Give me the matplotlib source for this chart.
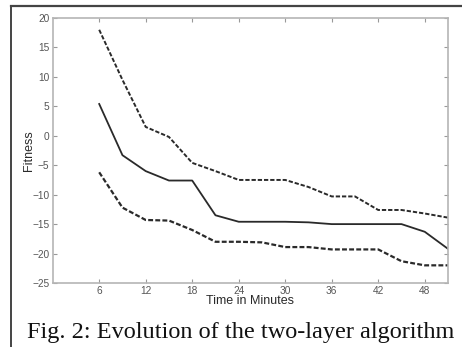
import matplotlib.pyplot as plt
from matplotlib.lines import Line2D

plt.rcParams["font.family"] = ["Liberation Sans", "DejaVu Sans"]

# minutes (sampled every 3 minutes)
minutes = [6, 9, 12, 15, 18, 21, 24, 27, 30, 33, 36, 39, 42, 45, 48, 51]
upper = [18, 9.5, 1.5, -0.2, -4.6, -6.0, -7.5, -7.5, -7.5, -8.7, -10.3, -10.3, -12.6, -12.6, -13.2, -13.9]
mean = [5.4, -3.3, -6.0, -7.6, -7.6, -13.5, -14.6, -14.6, -14.6, -14.7, -15.0, -15.0, -15.0, -15.0, -16.3, -19.2]
lower = [-6.2, -12.2, -14.3, -14.4, -16.0, -18.0, -18.0, -18.1, -18.9, -18.9, -19.3, -19.3, -19.3, -21.3, -22.0, -22.0]

xticks = [6, 12, 18, 24, 30, 36, 42, 48]
yticks = [-25, -20, -15, -10, -5, 0, 5, 10, 15, 20]

W, H = 462, 347
fig = plt.figure(figsize=(W / 100, H / 100), dpi=100)
ax = fig.add_axes([52.7 / W, 1 - 283 / H, (448 - 52.7) / W, (283 - 18) / H])

line_col = "#2a2a2a"
ax.plot(minutes, upper, color=line_col, lw=1.4, dashes=(2.2, 1.0))
ax.plot(minutes, mean, color=line_col, lw=1.3)
ax.plot(minutes, lower, color=line_col, lw=1.6, dashes=(2.2, 1.0))

ax.set_xlim(0, 51)
ax.set_ylim(-25, 20)
ax.set_xticks(xticks)
ax.set_yticks(yticks)
ax.tick_params(direction="in", length=3, width=0.8, colors="#999999",
               labelcolor="#555555", labelsize=7.3, top=True, right=True, pad=2.5)
for s in ax.spines.values():
    s.set_color("#b5b5b5")
    s.set_linewidth(1.2)

ax.set_xlabel("Time in Minutes", fontsize=9, color="#2a2a2a", labelpad=-1)
ax.set_ylabel("Fitness", fontsize=9, color="#2a2a2a", labelpad=-2)

# frame lines around the figure (from the scanned page)
fig.add_artist(Line2D([11 / W, 1], [1 - 6 / H, 1 - 6 / H], color="#444444", lw=1.6))
fig.add_artist(Line2D([11 / W, 11 / W], [0, 1 - 6 / H], color="#444444", lw=1.4))

fig.text(27 / W, 1 - 338 / H, "Fig. 2: Evolution of the two-layer algorithm",
         family="Liberation Serif", fontsize=17.5, color="#111111",
         ha="left", va="baseline")

fig.savefig("out.png", dpi=100, facecolor="white")
